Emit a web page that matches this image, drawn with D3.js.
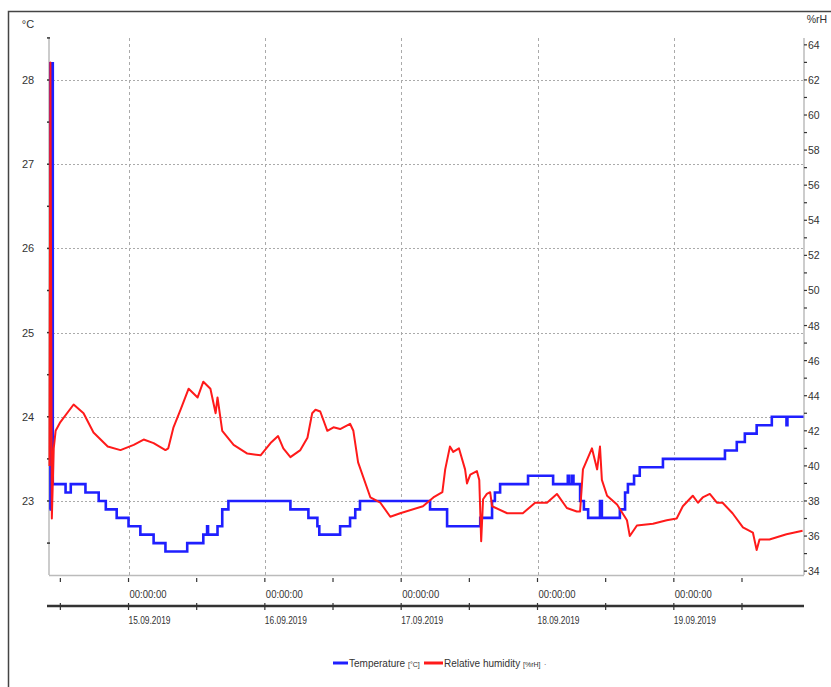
<!DOCTYPE html>
<html>
<head>
<meta charset="utf-8">
<script src="https://cdn.jsdelivr.net/npm/d3@7"></script>
<style>
  html, body { margin: 0; padding: 0; background: #fff; }
  svg { display: block; font-family: "Liberation Sans", Arial, sans-serif; }
</style>
</head>
<body>
<div class="chart-container"></div>
<script>
    'use strict';

    // data, times are September 2019 "day hh:mm"
    var tempTimes = ['14 10:05', '14 10:15', '14 10:40', '14 12:55', '14 13:50', '14 16:25', '14 18:45',
        '14 20:00', '14 21:55', '15 00:00', '15 02:05', '15 04:25', '15 06:30', '15 10:20', '15 13:10',
        '15 13:50', '15 14:00', '15 15:40', '15 16:30', '15 17:35', '16 04:30', '16 07:40', '16 09:15',
        '16 09:35', '16 13:15', '16 15:00', '16 15:55', '16 16:45', '17 05:05', '17 08:05', '17 13:55',
        '17 16:00', '17 16:30', '17 17:25', '17 22:20', '18 02:45', '18 05:20', '18 05:35', '18 06:05',
        '18 06:20', '18 07:30', '18 08:10', '18 08:55', '18 11:00', '18 11:20', '18 14:30', '18 15:25',
        '18 15:55', '18 17:00', '18 18:00', '18 22:05', '19 09:00', '19 11:05', '19 12:30', '19 14:35',
        '19 17:15', '19 19:50', '19 20:00', '19 22:50'];
    var tempValues = [22.9, 28.2, 23.2, 23.1, 23.2, 23.1, 23.0,
        22.9, 22.8, 22.7, 22.6, 22.5, 22.4, 22.5, 22.6,
        22.7, 22.6, 22.7, 22.9, 23.0, 22.9, 22.8, 22.7,
        22.6, 22.7, 22.8, 22.9, 23.0, 22.9, 22.7, 22.8,
        23.0, 23.1, 23.2, 23.3, 23.2, 23.3, 23.2, 23.3,
        23.2, 23.0, 22.9, 22.8, 23.0, 22.8, 22.9, 23.1,
        23.2, 23.3, 23.4, 23.5, 23.6, 23.7, 23.8, 23.9,
        24.0, 23.9, 24.0, 24.0];

    var humTimes = ['14 10:05', '14 10:15', '14 10:30', '14 10:50', '14 11:10', '14 12:00', '14 14:20',
        '14 16:05', '14 17:50', '14 20:20', '14 22:35', '15 00:55', '15 02:40', '15 04:25', '15 06:30',
        '15 07:00', '15 07:55', '15 09:10', '15 10:35', '15 12:10', '15 13:10', '15 14:25', '15 15:20',
        '15 15:40', '15 16:30', '15 18:30', '15 20:55', '15 23:15', '16 01:00', '16 02:20', '16 03:15',
        '16 04:30', '16 06:15', '16 07:30', '16 08:20', '16 08:55', '16 09:45', '16 11:00', '16 12:05',
        '16 13:15', '16 15:00', '16 15:35', '16 16:25', '16 18:35', '16 20:20', '16 22:05', '16 23:50',
        '17 03:50', '17 05:40', '17 07:15', '17 07:45', '17 08:35', '17 09:10', '17 10:10', '17 11:15',
        '17 11:35', '17 12:10', '17 13:20', '17 13:45', '17 14:05', '17 14:25', '17 15:05', '17 15:40',
        '17 16:00', '17 18:40', '17 21:25', '17 23:35', '18 01:40', '18 03:25', '18 05:10', '18 06:55',
        '18 07:30', '18 08:00', '18 09:35', '18 10:30', '18 11:00', '18 11:20', '18 12:15', '18 14:00',
        '18 15:45', '18 16:15', '18 17:30', '18 20:20', '18 22:45', '19 00:30', '19 01:35', '19 03:20',
        '19 04:15', '19 05:05', '19 06:20', '19 07:35', '19 08:35', '19 10:20', '19 12:10', '19 13:55',
        '19 14:35', '19 15:05', '19 16:50', '19 19:50', '19 22:40'];
    var humValues = [40.0, 63.0, 37.0, 41.0, 42.0, 42.5, 43.5,
        43.0, 41.9, 41.1, 40.9, 41.2, 41.5, 41.3, 40.9,
        41.0, 42.2, 43.2, 44.4, 43.9, 44.8, 44.4, 43.0,
        43.9, 42.0, 41.2, 40.7, 40.6, 41.3, 41.7, 41.0,
        40.5, 40.9, 41.6, 43.0, 43.2, 43.1, 42.0, 42.2,
        42.1, 42.4, 42.0, 40.2, 38.2, 37.9, 37.1, 37.3,
        37.7, 38.2, 38.5, 39.8, 41.1, 40.8, 41.0, 39.8,
        39.0, 39.5, 39.7, 39.2, 35.7, 38.1, 38.4, 38.5,
        37.7, 37.3, 37.3, 37.9, 37.9, 38.4, 37.6, 37.4,
        37.4, 39.8, 41.0, 39.8, 41.1, 39.2, 38.3, 37.8,
        36.9, 36.0, 36.6, 36.7, 36.9, 37.0, 37.7, 38.3,
        37.9, 38.2, 38.4, 37.9, 37.9, 37.3, 36.5, 36.2,
        35.2, 35.8, 35.8, 36.1, 36.3];

    var tempTicks = [23, 24, 25, 26, 27, 28];
    var humTicks = [34, 36, 38, 40, 42, 44, 46, 48, 50, 52, 54, 56, 58, 60, 62, 64];
    var dayLabels = ['15.09.2019', '16.09.2019', '17.09.2019', '18.09.2019', '19.09.2019'];

    var parseTime = d3.timeParse('%Y-%m-%d %H:%M');
    function toDate(s){
        var parts = s.split(' ');
        return parseTime('2019-09-' + parts[0] + ' ' + parts[1]);
    }

    var tempData = tempTimes.map(function(t, i){ return {date: toDate(t), value: tempValues[i]}; });
    var humData = humTimes.map(function(t, i){ return {date: toDate(t), value: humValues[i]}; });
    var dayDates = dayLabels.map(function(d){ return d3.timeParse('%d.%m.%Y')(d); });

    var width = 831, height = 687;
    var plot = {left: 49, right: 804, top: 38, bottom: 575};

    var x = d3.scaleTime()
        .domain([toDate('14 10:00'), toDate('19 22:55')])
        .range([plot.left, plot.right]);
    var yTemp = d3.scaleLinear().domain([22.121, 28.499]).range([plot.bottom, plot.top]);
    var yHum = d3.scaleLinear().domain([33.78, 64.39]).range([plot.bottom, plot.top]);

    var svg = d3.select('.chart-container').append('svg')
        .attr('width', width)
        .attr('height', height);

    // outer frame
    svg.append('path')
        .attr('d', 'M8.5,' + height + 'V11.5H' + width)
        .style('fill', 'none')
        .style('stroke', '#444')
        .style('stroke-width', 1.5);

    // grid
    svg.append('g').selectAll('line').data(tempTicks).join('line')
        .attr('x1', plot.left).attr('x2', plot.right)
        .attr('y1', function(d){ return Math.round(yTemp(d)) + 0.5; })
        .attr('y2', function(d){ return Math.round(yTemp(d)) + 0.5; })
        .style('stroke', '#aaa')
        .style('stroke-dasharray', '2,2');

    svg.append('g').selectAll('line').data(dayDates).join('line')
        .attr('x1', function(d){ return Math.round(x(d)) + 0.5; })
        .attr('x2', function(d){ return Math.round(x(d)) + 0.5; })
        .attr('y1', plot.top).attr('y2', plot.bottom)
        .style('stroke', '#aaa')
        .style('stroke-dasharray', '3,3');

    // left axis
    var leftAxis = svg.append('g').attr('transform', 'translate(' + plot.left + ',0)');
    leftAxis.append('line')
        .attr('y1', plot.top).attr('y2', plot.bottom)
        .style('stroke', '#bbb').style('stroke-width', 1.5);
    leftAxis.selectAll('.minor').data(d3.range(22.5, 28.6, 0.5)).join('line')
        .attr('x1', -2).attr('x2', 1)
        .attr('y1', function(d){ return yTemp(d); })
        .attr('y2', function(d){ return yTemp(d); })
        .style('stroke', '#333').style('stroke-width', 1.5);
    leftAxis.selectAll('text').data(tempTicks).join('text')
        .attr('x', -21)
        .attr('y', function(d){ return yTemp(d) + 4; })
        .attr('text-anchor', 'middle')
        .style('font-size', '11px')
        .style('fill', '#333')
        .text(function(d){ return d; });

    // right axis
    var rightAxis = svg.append('g').attr('transform', 'translate(' + plot.right + ',0)');
    rightAxis.append('line')
        .attr('y1', plot.top).attr('y2', plot.bottom)
        .style('stroke', '#bbb').style('stroke-width', 1.5);
    rightAxis.selectAll('.minor').data(d3.range(34, 65, 1)).join('line')
        .attr('x1', 0).attr('x2', 3)
        .attr('y1', function(d){ return yHum(d); })
        .attr('y2', function(d){ return yHum(d); })
        .style('stroke', '#333').style('stroke-width', 1.2);
    rightAxis.selectAll('text').data(humTicks).join('text')
        .attr('x', 4)
        .attr('y', function(d){ return yHum(d) + 4; })
        .style('font-size', '10.5px')
        .style('fill', '#333')
        .text(function(d){ return d; });

    svg.append('text').attr('x', 28).attr('y', 28).attr('text-anchor', 'middle')
        .style('font-size', '11px').style('fill', '#333').text('°C');
    svg.append('text').attr('x', 817).attr('y', 23).attr('text-anchor', 'middle')
        .style('font-size', '10.5px').style('fill', '#333').text('%rH');

    // bottom axes
    var halfDays = d3.timeHour.every(12).range(toDate('14 10:00'), toDate('19 22:55'));
    svg.append('line')
        .attr('x1', plot.left).attr('x2', plot.right)
        .attr('y1', plot.bottom + 0.5).attr('y2', plot.bottom + 0.5)
        .style('stroke', '#bbb').style('stroke-width', 1.5);
    svg.append('g').selectAll('line').data(halfDays).join('line')
        .attr('x1', function(d){ return x(d); }).attr('x2', function(d){ return x(d); })
        .attr('y1', plot.bottom + 3).attr('y2', plot.bottom + 7)
        .style('stroke', '#333').style('stroke-width', 1.2);
    svg.append('g').selectAll('text').data(dayDates).join('text')
        .attr('x', function(d){ return x(d) + 1; })
        .attr('y', plot.bottom + 23)
        .style('font-size', '10px')
        .style('fill', '#333')
        .attr('textLength', 37).attr('lengthAdjust', 'spacingAndGlyphs')
        .text(d3.timeFormat('%H:%M:%S'));

    svg.append('line')
        .attr('x1', plot.left - 2).attr('x2', plot.right)
        .attr('y1', 606).attr('y2', 606)
        .style('stroke', '#333').style('stroke-width', 2.5);
    svg.append('g').selectAll('line').data(halfDays).join('line')
        .attr('x1', function(d){ return x(d); }).attr('x2', function(d){ return x(d); })
        .attr('y1', 603).attr('y2', 610)
        .style('stroke', '#333').style('stroke-width', 1.2);
    svg.append('g').selectAll('text').data(dayDates).join('text')
        .attr('x', function(d){ return x(d); })
        .attr('y', 624)
        .style('font-size', '10px')
        .style('fill', '#333')
        .attr('textLength', 42).attr('lengthAdjust', 'spacingAndGlyphs')
        .text(function(d, i){ return dayLabels[i]; });

    // series
    var tempLine = d3.line()
        .x(function(d){ return x(d.date); })
        .y(function(d){ return yTemp(d.value); })
        .curve(d3.curveStepAfter);
    var humLine = d3.line()
        .x(function(d){ return x(d.date); })
        .y(function(d){ return yHum(d.value); });

    svg.append('path').datum(tempData)
        .attr('d', tempLine)
        .style('fill', 'none')
        .style('stroke', '#1f1fff')
        .style('stroke-width', 2.6);
    svg.append('path').datum(humData)
        .attr('d', humLine)
        .style('fill', 'none')
        .style('stroke', '#ff1a1a')
        .style('stroke-width', 2)
        .style('stroke-linejoin', 'round');

    // legend
    var legend = svg.append('g').attr('transform', 'translate(0,663)');
    legend.append('line').attr('x1', 333).attr('x2', 348).attr('y1', 0).attr('y2', 0)
        .style('stroke', '#1f1fff').style('stroke-width', 3);
    legend.append('text').attr('x', 349).attr('y', 4).style('fill', '#333')
        .style('font-size', '10px').text('Temperature');
    legend.append('text').attr('x', 408).attr('y', 4).style('fill', '#333')
        .style('font-size', '7px').text('[°C]');
    legend.append('line').attr('x1', 424).attr('x2', 443).attr('y1', 0).attr('y2', 0)
        .style('stroke', '#ff1a1a').style('stroke-width', 3);
    legend.append('text').attr('x', 444).attr('y', 4).style('fill', '#333')
        .style('font-size', '10px').text('Relative humidity');
    legend.append('text').attr('x', 523).attr('y', 4).style('fill', '#333')
        .style('font-size', '7px').text('[%rH]');
    legend.append('text').attr('x', 544).attr('y', 4).style('fill', '#333')
        .style('font-size', '7px').text('·');
</script>
</body>
</html>
